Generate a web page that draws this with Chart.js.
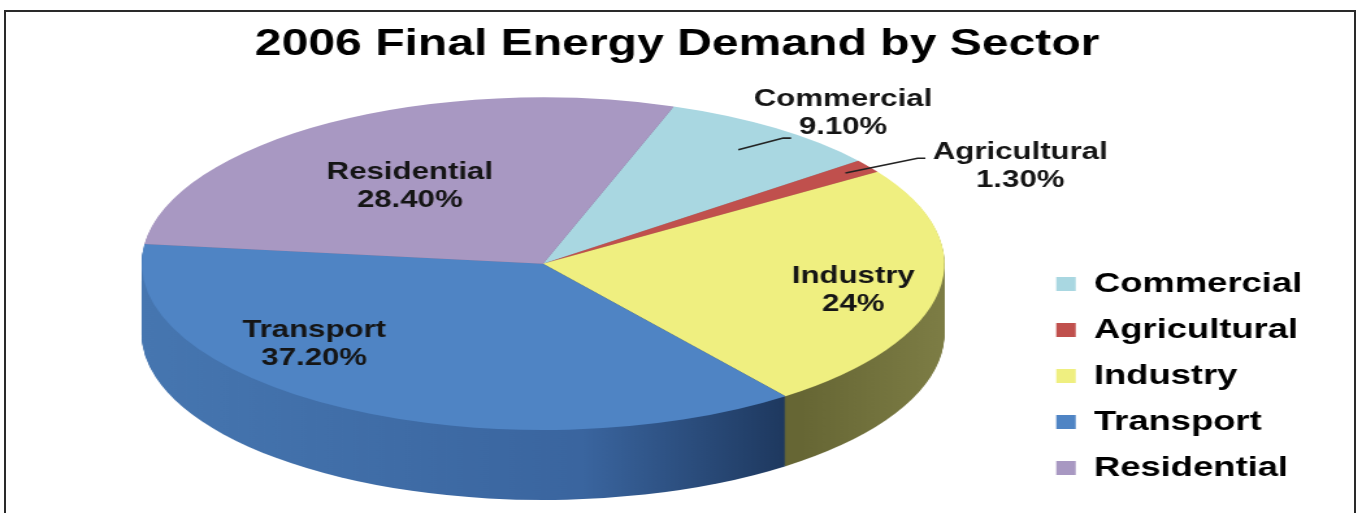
<!DOCTYPE html>
<html>
<head>
<meta charset="utf-8">
<script src="https://cdn.jsdelivr.net/npm/chart.js@4.4.1/dist/chart.umd.min.js"></script>
<style>
  html, body { margin: 0; padding: 0; background: #fff; }
  #wrap { position: relative; width: 1362px; height: 513px; overflow: hidden; }
  #chart { position: absolute; left: 0; top: 0; }
  #frame { position: absolute; left: 4px; top: 10px; width: 1348px; height: 600px; border: 2px solid #2a2a2a; pointer-events: none; }
</style>
</head>
<body>
<div id="wrap">
  <!-- the source picture is stretched sideways, so the canvas is too (inline style so Chart.js keeps it) -->
  <canvas id="chart" width="1048" height="513" style="width:1362px;height:513px"></canvas>
  <div id="frame"></div>
</div>
<script>
var sectors = ['Commercial', 'Agricultural', 'Industry', 'Transport', 'Residential'];
var shares = [9.1, 1.3, 24, 37.2, 28.4];
var topColors = ['#a9d7e1', '#c0504d', '#efef80', '#4f84c4', '#a898c2'];
// side wall shading, stops across the pie width
var sideStops = [0, 0.55, 0.82, 1];
var sideColors = [
  ['#7ea3ab', '#7ea3ab', '#7ea3ab', '#7ea3ab'],
  ['#8c3634', '#8c3634', '#8c3634', '#8c3634'],
  ['#666634', '#666634', '#666634', '#7d7d45'],
  ['#4676b0', '#3a659f', '#1c355a', '#1c355a'],
  ['#7e7196', '#7e7196', '#7e7196', '#7e7196']
];

Chart.defaults.font.family = '"Liberation Sans", Arial, sans-serif';

function pct(v) {
  return (v % 1 === 0 ? String(v) : v.toFixed(2)) + '%';
}

function project(g, angle, f) {
  return { x: g.cx + Math.cos(angle) * g.rx * f, y: g.cy + Math.sin(angle) * g.ry * f };
}

var pie3d = {
  id: 'pie3d',
  geometry: function (chart, o) {
    var ca = chart.chartArea;
    var arc = chart.getDatasetMeta(0).data[0];
    var left = ca.left + o.insetLeft;
    var rx = (ca.right - o.gapRight - left) / 2;
    var ry = (ca.bottom - o.depth - ca.top) / 2;
    return {
      cx: left + rx, cy: ca.top + ry, rx: rx, ry: ry,
      sx: rx / arc.outerRadius, sy: ry / arc.outerRadius,
      ox: arc.x, oy: arc.y, R: arc.outerRadius
    };
  },
  beforeDatasetsDraw: function (chart, args, o) {
    var ctx = chart.ctx;
    var g = this.geometry(chart, o);
    var arcs = chart.getDatasetMeta(0).data;
    var grads = arcs.map(function (a, i) {
      var gr = ctx.createLinearGradient(g.ox - g.R, 0, g.ox + g.R, 0);
      sideStops.forEach(function (s, j) { gr.addColorStop(s, sideColors[i][j]); });
      return gr;
    });
    // stack the slices downwards to build the wall
    for (var k = o.depth; k >= 1; k--) {
      ctx.save();
      ctx.translate(g.cx, g.cy + k);
      ctx.scale(g.sx, g.sy);
      ctx.translate(-g.ox, -g.oy);
      arcs.forEach(function (a, i) {
        ctx.fillStyle = grads[i];
        ctx.beginPath();
        ctx.moveTo(a.x, a.y);
        ctx.arc(a.x, a.y, a.outerRadius, a.startAngle, a.endAngle);
        ctx.closePath();
        ctx.fill();
      });
      ctx.restore();
    }
    // top face: let Chart.js draw its arcs squashed into the ellipse
    ctx.save();
    ctx.translate(g.cx, g.cy);
    ctx.scale(g.sx, g.sy);
    ctx.translate(-g.ox, -g.oy);
  },
  afterDatasetsDraw: function (chart, args, o) {
    var ctx = chart.ctx;
    ctx.restore();
    var g = this.geometry(chart, o);
    var arcs = chart.getDatasetMeta(0).data;
    ctx.save();
    ctx.font = 'bold 24px "Liberation Sans", Arial, sans-serif';
    ctx.fillStyle = '#151515';
    ctx.strokeStyle = '#222';
    ctx.lineWidth = 1.6;
    ctx.textAlign = 'center';
    ctx.textBaseline = 'middle';
    arcs.forEach(function (a, i) {
      var mid = (a.startAngle + a.endAngle) / 2;
      var outside = shares[i] < 10;
      var p = project(g, mid, outside ? 1 : o.insideAt);
      var n = o.labelNudge[i];
      var lx = p.x + n[0], ly = p.y + n[1];
      var L = o.leaders[i];
      if (outside && L) {
        var s = project(g, mid, L.from);
        ctx.beginPath();
        ctx.moveTo(s.x, s.y);
        ctx.lineTo(lx + L.pts[0][0], ly + L.pts[0][1]);
        ctx.lineTo(lx + L.pts[1][0], ly + L.pts[1][1]);
        ctx.stroke();
      }
      ctx.fillText(sectors[i], lx, ly - 14);
      ctx.fillText(pct(shares[i]), lx, ly + 14);
    });
    ctx.restore();
  }
};

new Chart(document.getElementById('chart'), {
  type: 'pie',
  data: {
    labels: sectors,
    datasets: [{
      data: shares,
      backgroundColor: topColors,
      borderWidth: 0,
      clip: false
    }]
  },
  options: {
    responsive: false,
    animation: false,
    rotation: 19,
    layout: { padding: { left: 30, right: 36, top: 0, bottom: 13 } },
    plugins: {
      title: {
        display: true,
        text: '2006 Final Energy Demand by Sector',
        color: '#000',
        font: { size: 37, weight: 'bold' },
        padding: { top: 23, bottom: 30 }
      },
      legend: {
        position: 'right',
        align: 'end',
        labels: {
          color: '#000',
          font: { size: 28, weight: 'bold' },
          boxWidth: 15,
          boxHeight: 14,
          padding: 18
        }
      },
      tooltip: { enabled: false },
      pie3d: {
        depth: 70,
        insetLeft: 79,
        gapRight: 68,
        insideAt: 0.6,
        labelNudge: [[52, -15], [117, 0], [56, 10], [-84, -6], [-4, 7]],
        leaders: [
          { from: 0.84, pts: [[-46, 25], [-40, 25]] },
          { from: 0.93, pts: [[-79, -8], [-73, -8]] },
          null, null, null
        ]
      }
    }
  },
  plugins: [pie3d]
});
</script>
</body>
</html>
